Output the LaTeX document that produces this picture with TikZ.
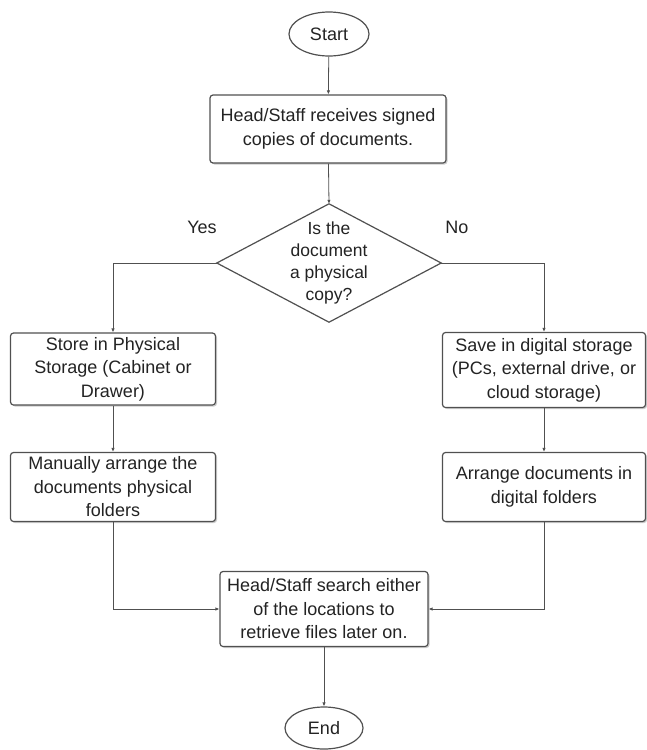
\documentclass[tikz,border=0pt]{standalone}
\usepackage{fontspec}
\setmainfont{Liberation Sans}
\usepackage{tikz}
\usetikzlibrary{arrows.meta}
\usetikzlibrary{shapes.geometric}
\usetikzlibrary{shadows}
\definecolor{edgegray}{RGB}{80,80,80}
\definecolor{textgray}{RGB}{35,35,35}
\tikzset{
  every node/.style={font=\fontsize{18}{23.5}\selectfont, text=textgray, align=center},
  terminal/.style={ellipse, draw=edgegray, line width=1.2pt, fill=white, inner sep=0pt},
  process/.style={rectangle, rounded corners=3pt, draw=edgegray, line width=1.2pt, fill=white,
    inner sep=2pt, drop shadow={shadow xshift=1.5pt, shadow yshift=-1.5pt, opacity=0.4}},
  flow/.style={draw=edgegray, line width=0.8pt, -{Latex[length=4pt,width=3.5pt]}}
}
\begin{document}
\begin{tikzpicture}[x=1pt, y=-1pt]
        \useasboundingbox (0,0) rectangle (647,750);
        % top
        \node[terminal, minimum width=80, minimum height=44] (start) at (329,34) {Start};
        \node[process, minimum width=236, minimum height=68] (recv) at (328,129) {Head/Staff receives signed\\copies of documents.};
        % decision
        \node[minimum width=224, minimum height=118, inner sep=0pt] (dec) at (329,263) {};
        \draw[edgegray, line width=1.2pt, fill=white] (dec.north) -- (dec.east) -- (dec.south) -- (dec.west) -- cycle;
        \node[font=\fontsize{17.5}{22}\selectfont, inner sep=0pt] (ask) at (dec.center) {Is the\\document\\a physical\\copy?};
        \node (yes) at (202,227) {Yes};
        \node (no) at (457,227) {No};
        % left branch
        \node[process, minimum width=205, minimum height=72] (store) at (113,369) {Store in Physical\\Storage (Cabinet or\\Drawer)};
        \node[process, minimum width=205, minimum height=69] (manual) at (113,487) {Manually arrange the\\documents physical\\folders};
        % right branch
        \node[process, minimum width=203, minimum height=75] (save) at (544,370) {Save in digital storage\\(PCs, external drive, or\\cloud storage)};
        \node[process, minimum width=203, minimum height=69] (arrange) at (544,487) {Arrange documents in\\digital folders};
        % bottom
        \node[process, minimum width=208, minimum height=75] (search) at (324,609) {Head/Staff search either\\of the locations to\\retrieve files later on.};
        \node[terminal, minimum width=78, minimum height=42] (end) at (324,728) {End};
        % connectors
        \draw[flow] (start) -- (recv);
        \draw[flow] (recv) -- (dec.north);
        \draw[flow] (dec.west) -| (store.north);
        \draw[flow] (dec.east) -| (save.north);
        \draw[flow] (store) -- (manual);
        \draw[flow] (save) -- (arrange);
        \draw[flow] (manual.south) |- (search.west);
        \draw[flow] (arrange.south) |- (search.east);
        \draw[flow] (search) -- (end);
    \end{tikzpicture}
\end{document}
